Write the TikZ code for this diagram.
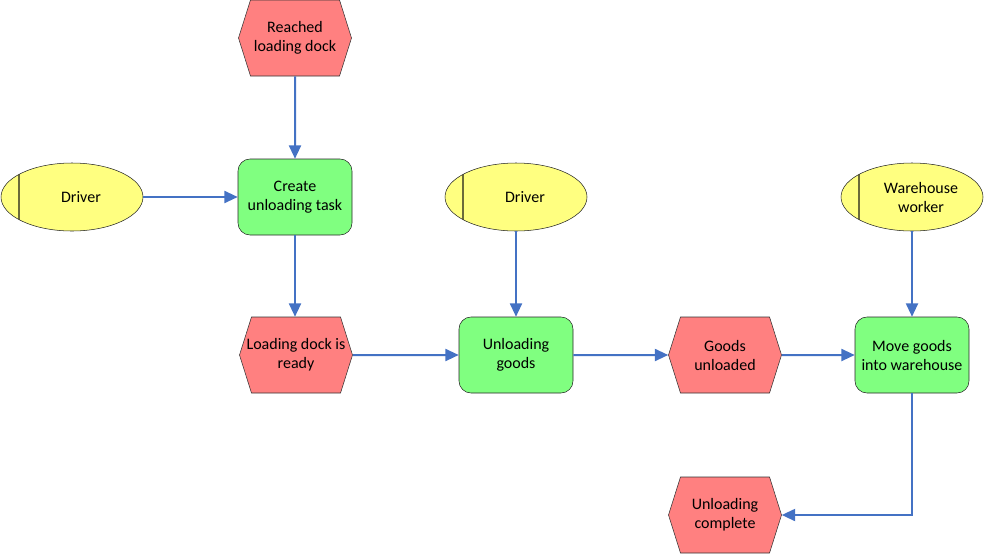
\documentclass[tikz,border=0pt]{standalone}
\usepackage{fontspec}
\setmainfont{Carlito}
\usetikzlibrary{shapes.symbols,shapes.geometric,arrows.meta}
\definecolor{evtred}{HTML}{FF8080}
\definecolor{funcgreen}{HTML}{80FF80}
\definecolor{actyellow}{HTML}{FFFF80}
\definecolor{actline}{HTML}{6B6B3A}
\definecolor{flowblue}{HTML}{4472C4}
\tikzset{
  every node/.style={font=\fontsize{12}{14.25}\selectfont, align=center},
  event/.style={signal, signal to=west and east, signal pointer angle=145,
    draw=black!80, fill=evtred, minimum width=84.75pt, minimum height=57pt,
    inner xsep=-4pt, inner ysep=1pt},
  func/.style={rectangle, rounded corners=9pt, draw=black!85, fill=funcgreen,
    minimum width=85.5pt, minimum height=57pt, inner sep=0pt},
  actor/.style={ellipse, draw=black!85, fill=actyellow, minimum width=106.5pt,
    minimum height=51pt, inner sep=0pt,
    path picture={\draw[actline, line width=1.1pt]
      ([xshift=13.5pt]path picture bounding box.south west) --
      ([xshift=13.5pt]path picture bounding box.north west);}},
  flow/.style={draw=flowblue, line width=1.5pt, -{Triangle[length=10pt,width=9pt]}}
}

\begin{document}
\begin{tikzpicture}[x=0.75pt, y=-0.75pt]
   \useasboundingbox (0,0) rectangle (984,554);
   % events
   \node[event] (reached) at (295,38)  {Reached\\loading dock};
   \node[event] (ready)   at (296,355) {Loading dock is\\ready};
   \node[event] (unloaded) at (725,355) {Goods\\unloaded};
   \node[event] (complete) at (725,515) {Unloading\\complete};
   % functions
   \node[func] (create) at (295,197) {Create\\unloading task};
   \node[func] (unload) at (516,355) {Unloading\\goods};
   \node[func] (move)   at (912,355) {Move goods\\into warehouse};
   % org units
   \node[actor, label={[xshift=6.75pt]center:Driver}] (driverA) at (72,197) {};
   \node[actor, label={[xshift=6.75pt]center:Driver}] (driverB) at (516,197) {};
   \node[actor, label={[xshift=6.75pt]center:Warehouse\\worker}] (worker) at (912,197) {};
   % flows
   \draw[flow] (reached) -- (create);
   \draw[flow] (driverA) -- (create);
   \draw[flow] (create) -- (create |- ready.north);
   \draw[flow] (driverB) -- (unload);
   \draw[flow] (ready) -- (unload);
   \draw[flow] (unload) -- (unloaded);
   \draw[flow] (unloaded) -- (move);
   \draw[flow] (worker) -- (move);
   \draw[flow] (move) |- (complete);
\end{tikzpicture}
\end{document}
